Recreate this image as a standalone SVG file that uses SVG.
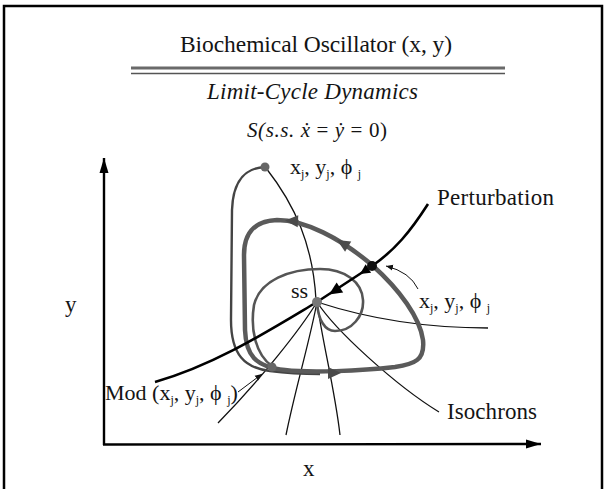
<svg xmlns="http://www.w3.org/2000/svg" width="605" height="489" viewBox="0 0 605 489">
<style>
.t{font-family:"Liberation Serif","DejaVu Serif",serif;fill:#141414}
.iso{fill:none;stroke:#111;stroke-width:1.3}
.cyc{fill:none;stroke:#5a5a5a;stroke-width:4.5;stroke-linejoin:round}
.ax{fill:none;stroke:#000;stroke-width:2.4}
.thin{fill:none;stroke:#111;stroke-width:1}
</style>
<defs>
<marker id="ah" markerWidth="8" markerHeight="8" refX="7" refY="4" orient="auto" markerUnits="userSpaceOnUse">
<path d="M0,1 L7,4 L0,7 Z" fill="#111"/>
</marker>
<marker id="axh" markerWidth="16" markerHeight="10" refX="15" refY="5" orient="auto" markerUnits="userSpaceOnUse">
<path d="M0,0.5 L15,5 L0,9.5 Z" fill="#000"/>
</marker>
</defs>
<rect width="605" height="489" fill="#fff"/>
<path d="M4,489 L4,6 L602,6 L602,489" fill="none" stroke="#000" stroke-width="2.5"/>

<g id="header">
<text class="t" x="180" y="52" font-size="23.5" textLength="272" lengthAdjust="spacing">Biochemical Oscillator (x, y)</text>
<line x1="131" y1="68" x2="505" y2="68" stroke="#6a6a6a" stroke-width="3.2"/>
<line x1="131" y1="73.5" x2="505" y2="73.5" stroke="#555" stroke-width="1.4"/>
<text class="t" x="207" y="99" font-size="23" font-style="italic" textLength="211" lengthAdjust="spacing">Limit-Cycle Dynamics</text>
<text class="t" x="247" y="137" font-size="21" textLength="140" lengthAdjust="spacing"><tspan font-style="italic">S(s.s. ẋ</tspan> = <tspan font-style="italic">ẏ</tspan> = 0)</text>
</g>

<g id="axes">
<path class="ax" d="M104,445 L104,158" marker-end="url(#axh)"/>
<path class="ax" d="M103,444.5 L541,444" marker-end="url(#axh)"/>
<text class="t" x="65" y="312" font-size="23">y</text>
<text class="t" x="303" y="476" font-size="23">x</text>
</g>

<g id="connectors">
<path class="iso" d="M266,168 C295,205 313,245 316,300"/>
<path class="iso" d="M317,302 C300,330 260,380 218,423"/>
<path class="iso" d="M317,302 C310,340 295,390 286,435"/>
<path class="iso" d="M317,302 C322,340 335,390 340,435"/>
<path class="iso" d="M317,302 C335,330 395,385 439,412"/>
<path class="iso" d="M317,302 C360,316 420,328 488,328"/>
<path fill="none" stroke="#444" stroke-width="2.4" d="M265,167 C245,168 233,180 232,210 L231,320 C231,355 245,368 270,371 C285,373 300,374 320,374"/>
<path fill="none" stroke="#555" stroke-width="2.6" d="M317,302 C318,320 325,331 335,331 C352,331 364,316 363,300 C362,282 345,269 320,269 C290,269 260,280 254,305 C250,330 256,355 272,366"/>
<path class="cyc" d="M277,220 C305,220 340,238 372,265 C400,290 420,318 423,340 C425,360 415,364 395,367 C360,371 310,373 285,370 C255,367 246,355 245,330 L244,255 C244,232 255,221 277,220 Z"/>
<polygon points="0,0 13,-6 13,6" fill="#4a4a4a" transform="translate(285,220.5) rotate(3)"/>
<polygon points="0,0 13,-6 13,6" fill="#4a4a4a" transform="translate(337,240) rotate(31)"/>
<polygon points="0,0 -13,-6 -13,6" fill="#4a4a4a" transform="translate(341,373)"/>
<path fill="none" stroke="#000" stroke-width="2.6" d="M428,204 C410,232 395,250 372,266 L317,302 C270,330 215,365 155,382"/>
<polygon points="0,0 13,-6 13,6" fill="#000" transform="translate(329,294.5) rotate(-33)"/>
<polygon points="0,0 10,-5 10,5" fill="#000" transform="translate(360,274) rotate(-33)"/>
<path class="thin" d="M418,289 Q410,272 386,266" marker-end="url(#ah)"/>
<path class="thin" d="M238,392 L262,374" marker-end="url(#ah)"/>
</g>

<g id="top-point">
<circle cx="265" cy="167" r="4.5" fill="#666"/>
<text class="t" x="290" y="174" font-size="22">x<tspan font-size="12" dy="4">j</tspan><tspan dy="-4">, y</tspan><tspan font-size="12" dy="4">j</tspan><tspan dy="-4">,  ϕ </tspan><tspan font-size="12" dy="4">j</tspan></text>
</g>

<g id="perturbation">
<circle cx="372" cy="266" r="5" fill="#111"/>
<text class="t" x="437" y="205" font-size="23" textLength="117" lengthAdjust="spacing">Perturbation</text>
<text class="t" x="419" y="308" font-size="22">x<tspan font-size="12" dy="4">j</tspan><tspan dy="-4">, y</tspan><tspan font-size="12" dy="4">j</tspan><tspan dy="-4">,  ϕ </tspan><tspan font-size="12" dy="4">j</tspan></text>
</g>

<g id="steady-state">
<circle cx="317" cy="302" r="5" fill="#777"/>
<text class="t" x="291" y="298" font-size="22">ss</text>
</g>

<g id="mod-point">
<circle cx="272" cy="367" r="4.5" fill="#666"/>
<text class="t" x="105" y="400" font-size="22">Mod (x<tspan font-size="12" dy="4">j</tspan><tspan dy="-4">, y</tspan><tspan font-size="12" dy="4">j</tspan><tspan dy="-4">,  ϕ </tspan><tspan font-size="12" dy="4">j</tspan><tspan dy="-4">)</tspan></text>
</g>

<g id="isochrons-label">
<text class="t" x="447" y="419" font-size="23" textLength="90" lengthAdjust="spacing">Isochrons</text>
</g>
</svg>
